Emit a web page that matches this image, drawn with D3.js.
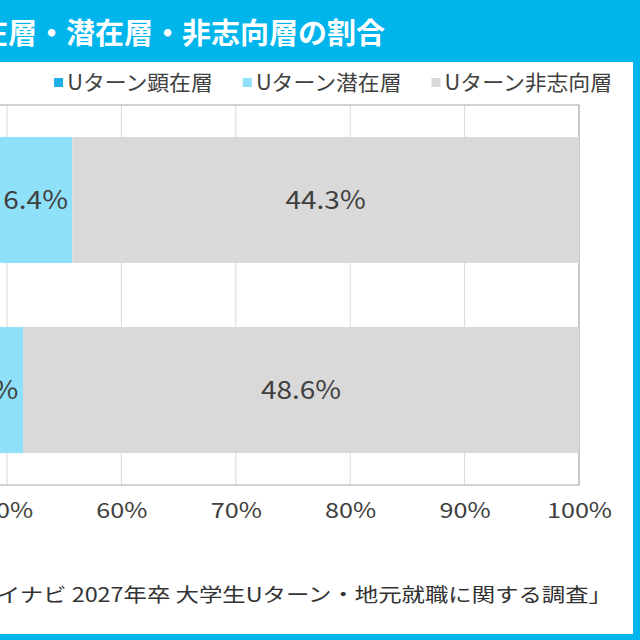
<!DOCTYPE html>
<html>
<head>
<meta charset="utf-8">
<script src="https://cdn.jsdelivr.net/npm/d3@7"></script>
<style>
  body { margin: 0; background: #fff; }
  svg text { font-family: "Noto Sans CJK JP", "Noto Sans", sans-serif; }
</style>
</head>
<body>
<div id="chart"></div>
<script>
//DATA
const categories = ['2027年卒', '2026年卒'];
const seriesNames = ['Uターン顕在層', 'Uターン潜在層', 'Uターン非志向層'];
const kenzai = [49.3, 44.9];
const senzai = [6.4, 6.5];
const hishikou = [44.3, 48.6];
const ticks = [0, 10, 20, 30, 40, 50, 60, 70, 80, 90, 100];
const colors = ['#1cb0e6', '#8fe1f9', '#d9d9d9'];

const title = 'Uターン顕在層・潜在層・非志向層の割合';
const source = '「マイナビ 2027年卒 大学生Uターン・地元就職に関する調査」';

const W = 640, H = 640;
const svg = d3.select('#chart').append('svg').attr('width', W).attr('height', H);

// text in the picture is a bit wider than the font, so stretch it sideways
function stretch(sel, sx) {
    sel.each(function() {
        const t = d3.select(this);
        const tx = +t.attr('x') || 0, ty = +t.attr('y') || 0;
        t.attr('x', 0).attr('y', 0)
         .attr('transform', 'translate(' + tx + ',' + ty + ') scale(' + sx + ',1)');
    });
}

//FRAME
svg.append('rect').attr('width', W).attr('height', H).attr('fill', '#00b5ec');
svg.append('rect').attr('x', 0).attr('y', 62).attr('width', 633).attr('height', 572).attr('fill', '#fff');

svg.append('text')
    .attr('x', 385).attr('y', 44)
    .attr('text-anchor', 'end')
    .attr('fill', '#fff')
    .attr('font-size', 29)
    .attr('font-weight', 'bold')
    .text(title);

//SCALES
const x = d3.scaleLinear().domain([0, 100]).range([-565, 579]);
const y = d3.scaleBand().domain(categories).range([105, 485]).paddingInner(0.337).paddingOuter(0.168);

//GRID
const g = svg.append('g');
g.selectAll('.grid').data(ticks)
    .enter().append('line')
    .attr('x1', d => x(d)).attr('x2', d => x(d))
    .attr('y1', 105).attr('y2', 485)
    .attr('stroke', '#d9d9d9').attr('stroke-width', 1);
g.append('rect')
    .attr('x', x(0)).attr('y', 105)
    .attr('width', x(100) - x(0)).attr('height', 380)
    .attr('fill', 'none').attr('stroke', '#a6a6a6').attr('stroke-width', 1);

//BARS
const rows = categories.map((c, i) => ({ cat: c, vals: [kenzai[i], senzai[i], hishikou[i]] }));
const stack = [];
rows.forEach(r => {
    let acc = 0;
    r.vals.forEach((v, k) => {
        stack.push({ cat: r.cat, k: k, x0: acc, x1: acc + v, v: v });
        acc += v;
    });
});

g.selectAll('.bar').data(stack)
    .enter().append('rect')
    .attr('x', d => x(d.x0))
    .attr('y', d => y(d.cat))
    .attr('width', d => x(d.x1) - x(d.x0))
    .attr('height', y.bandwidth())
    .attr('fill', d => colors[d.k]);

g.selectAll('.lbl').data(stack)
    .enter().append('text')
    .attr('x', d => (x(d.x0) + x(d.x1)) / 2)
    .attr('y', d => y(d.cat) + y.bandwidth() / 2 + 9)
    .attr('text-anchor', 'middle')
    .attr('font-size', 25)
    .attr('fill', d => d.k === 0 ? '#fff' : '#404040')
    .text(d => d.v.toFixed(1) + '%')
    .call(stretch, 1.12);

g.selectAll('.cat').data(categories)
    .enter().append('text')
    .attr('x', x(0) - 10)
    .attr('y', d => y(d) + y.bandwidth() / 2 + 7)
    .attr('text-anchor', 'end')
    .attr('font-size', 20)
    .attr('fill', '#404040')
    .text(d => d);

//X AXIS
const xAxis = svg.append('g')
    .attr('transform', 'translate(0,485)')
    .call(d3.axisBottom(x).tickValues(ticks).tickSize(0).tickPadding(18).tickFormat(d => d + '%'));
xAxis.select('.domain').remove();
xAxis.selectAll('text').attr('font-size', 21).attr('fill', '#404040')
    .style('font-family', '"Noto Sans CJK JP", sans-serif')
    .attr('transform', 'scale(1.2,1)');

//LEGEND
const legend = svg.append('g');
const lsx = 1.04;
let lx = 612;
for (let i = seriesNames.length - 1; i >= 0; i--) {
    const t = legend.append('text')
        .attr('x', lx).attr('y', 90)
        .attr('font-size', 21).attr('fill', '#404040')
        .attr('text-anchor', 'end')
        .text(seriesNames[i]);
    const w = t.node().getComputedTextLength() * lsx;
    t.call(stretch, lsx);
    legend.append('rect')
        .attr('x', lx - w - 13).attr('y', 78)
        .attr('width', 9).attr('height', 9)
        .attr('fill', colors[i]);
    lx = lx - w - 13 - 30;
}

//SOURCE
svg.append('text')
    .attr('x', 612).attr('y', 602)
    .attr('text-anchor', 'end')
    .attr('font-size', 19.5).attr('fill', '#333')
    .text(source)
    .call(stretch, 1.2);
</script>
</body>
</html>
